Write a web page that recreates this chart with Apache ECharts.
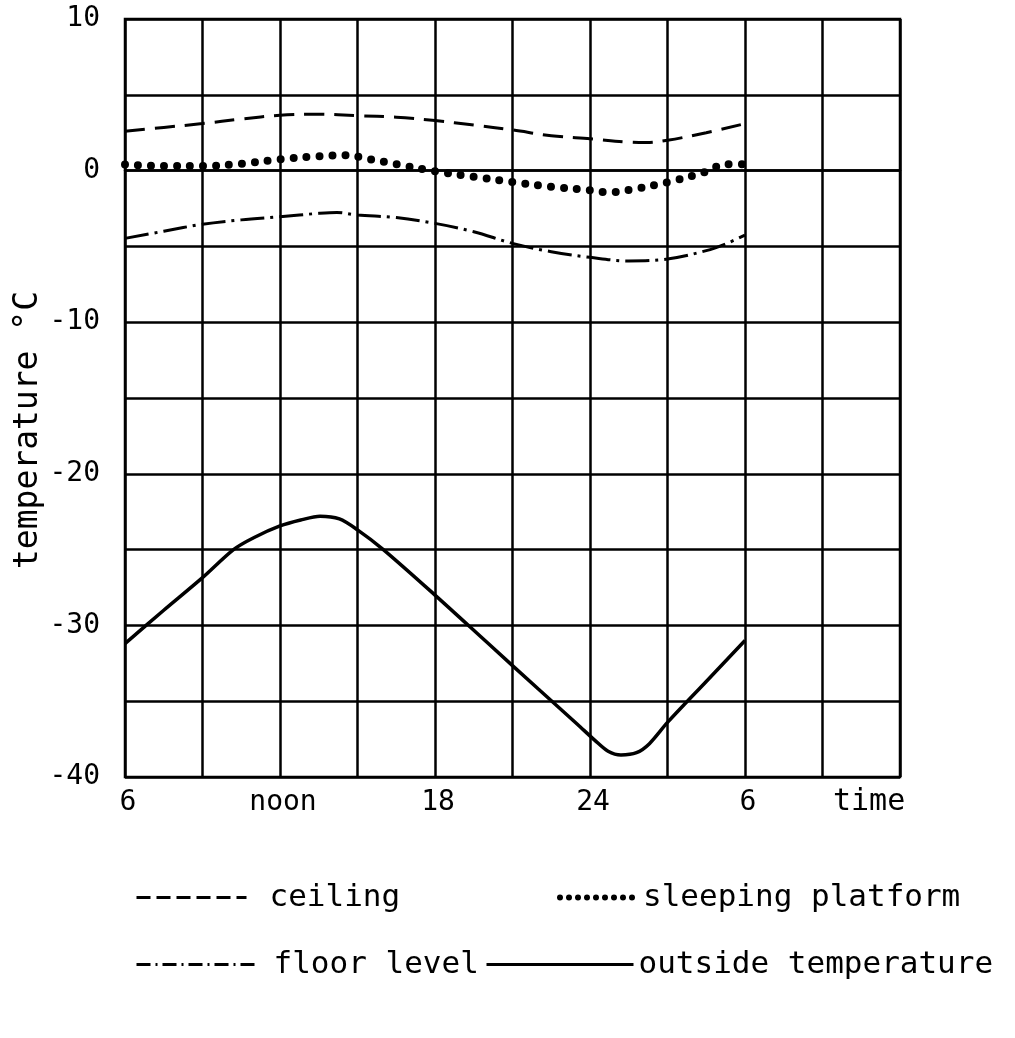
<!DOCTYPE html>
<html>
<head>
<meta charset="utf-8">
<script src="https://cdn.jsdelivr.net/npm/echarts@6/dist/echarts.min.js"></script>
<style>
  html, body { margin: 0; padding: 0; background: #fff; }
  #chart { width: 1015px; height: 1038px; }
</style>
</head>
<body>
<div id="chart"></div>
<script>
// ---- data (hours of day, 6 -> next morning 6 = 30) ----
const ceilingHours  = [6, 7.5, 9, 10.5, 12, 13.5, 15, 16.5, 18, 19.5, 21, 22.5, 24, 25.5, 26.2, 27, 28.5, 30];
const ceilingTemp   = [2.6, 2.85, 3.1, 3.4, 3.65, 3.72, 3.62, 3.52, 3.3, 3.0, 2.68, 2.3, 2.1, 1.88, 1.85, 2.0, 2.5, 3.1];

const platformHours = [6, 7.5, 9, 10.5, 12, 13.5, 14.5, 15.5, 16.5, 18, 19.5, 21, 22.5, 24, 24.7, 25.5, 27, 28.5, 29.2, 30];
const platformTemp  = [0.4, 0.3, 0.3, 0.45, 0.75, 0.95, 1.02, 0.74, 0.43, -0.05, -0.4, -0.76, -1.06, -1.3, -1.43, -1.28, -0.77, -0.07, 0.42, 0.42];

const floorHours    = [6, 7.5, 9, 10.5, 12, 13.5, 14.2, 15, 16.5, 18, 19.5, 21, 22.5, 24, 25.5, 27, 28.5, 29.3, 30];
const floorTemp     = [-4.47, -4.0, -3.54, -3.25, -3.04, -2.82, -2.76, -2.93, -3.1, -3.48, -4.03, -4.8, -5.35, -5.72, -5.96, -5.83, -5.28, -4.8, -4.25];

const outsideHours  = [6, 7.5, 9, 10.2, 11, 12, 12.8, 13.55, 14.3, 15, 16, 18, 20, 22, 23.5, 24.2, 24.7, 25.2, 25.8, 26.3, 27, 28.5, 30];
const outsideTemp   = [-31.2, -29.0, -26.85, -25.0, -24.2, -23.44, -23.05, -22.8, -22.98, -23.7, -25.0, -28.0, -31.1, -34.2, -36.5, -37.6, -38.3, -38.55, -38.4, -37.8, -36.4, -33.7, -31.0];

const seriesNames   = ['ceiling', 'sleeping platform', 'floor level', 'outside temperature'];

const xTickValues   = [6, 12, 18, 24, 30];
const xTickLabels   = ['6', 'noon', '18', '24', '6'];
const xAxisTitle    = 'time';
const yAxisTitle    = 'temperature °C';
const yLabelStep    = 10;

// ---- helpers ----
const pairs = (hs, vs) => hs.map((h, i) => [h, vs[i]]);
const FONT = 'DejaVu Sans Mono';
const GRID_W = 2.5;

const chart = echarts.init(document.getElementById('chart'), null, { renderer: 'canvas' });

function legendAt(name, left, top, itemWidth, lineStyle, padLeft) {
  return {
    data: [name],
    left: left, top: top, orient: 'horizontal',
    padding: 0, itemWidth: itemWidth, itemHeight: 14,
    selectedMode: false,
    itemStyle: { opacity: 0, borderWidth: 0 },
    lineStyle: lineStyle,
    textStyle: { fontFamily: FONT, fontSize: 31, color: '#000', padding: [0, 0, 0, padLeft] }
  };
}

const option = {
  backgroundColor: '#fff',
  animation: false,
  grid: {
    left: 125, right: 115, top: 19, bottom: 261,
    outerBoundsMode: 'none', containLabel: false,
    show: true, borderColor: '#000', borderWidth: GRID_W
  },
  xAxis: {
    type: 'value', min: 6, max: 36, interval: 3,
    axisLine: { show: true, lineStyle: { color: '#000', width: GRID_W } },
    axisTick: { show: false },
    splitLine: { show: true, lineStyle: { color: '#000', width: GRID_W } },
    axisLabel: {
      fontFamily: FONT, fontSize: 28, color: '#000', margin: 12,
      showMinLabel: true, showMaxLabel: true,
      padding: [0, 0, 0, 6],
      formatter: v => { const i = xTickValues.indexOf(v); return i >= 0 ? xTickLabels[i] : ''; }
    }
  },
  yAxis: {
    type: 'value', min: -40, max: 10, interval: 5,
    name: yAxisTitle, nameLocation: 'middle', nameGap: 80, nameMoveOverlap: false,
    nameTextStyle: { fontFamily: FONT, fontSize: 33, color: '#000', padding: [0, 64, 0, 0] },
    axisLine: { show: false },
    axisTick: { show: false },
    splitLine: { show: true, lineStyle: { color: '#000', width: GRID_W } },
    axisLabel: {
      fontFamily: FONT, fontSize: 28, color: '#000', margin: 25,
      formatter: v => (v % yLabelStep === 0 ? String(v) : '')
    }
  },
  graphic: [
    { type: 'text', left: 833, top: 787, style: { text: xAxisTitle, fontFamily: FONT, fontSize: 30, fill: '#000' } }
  ],
  legend: [
    legendAt(seriesNames[0], 135, 882, 110, { type: [14, 6], width: 3, color: '#000' }, 18),
    legendAt(seriesNames[1], 557, 882, 76, { type: [0, 9], width: 6, cap: 'round', color: '#000' }, 2),
    legendAt(seriesNames[2], 135, 949, 120, { type: [14, 5, 2, 5], width: 3, color: '#000' }, 12),
    legendAt(seriesNames[3], 485, 949, 147, { type: 'solid', width: 3, color: '#000' }, 0)
  ],
  series: [
    {
      name: seriesNames[0], type: 'line', symbol: 'none', smooth: 0.35,
      data: pairs(ceilingHours, ceilingTemp),
      lineStyle: { color: '#000', width: 3, type: [20, 10] }, itemStyle: { color: '#000' }
    },
    {
      name: seriesNames[1], type: 'line', symbol: 'none', smooth: 0.35,
      data: pairs(platformHours, platformTemp),
      lineStyle: { color: '#000', width: 8, type: [0, 13], cap: 'round' }, itemStyle: { color: '#000' }
    },
    {
      name: seriesNames[2], type: 'line', symbol: 'none', smooth: 0.35,
      data: pairs(floorHours, floorTemp),
      lineStyle: { color: '#000', width: 3, type: [24, 6, 3, 6] }, itemStyle: { color: '#000' }
    },
    {
      name: seriesNames[3], type: 'line', symbol: 'none', smooth: 0.3,
      data: pairs(outsideHours, outsideTemp),
      lineStyle: { color: '#000', width: 3.5 }, itemStyle: { color: '#000' }
    }
  ]
};
chart.setOption(option);
</script>
</body>
</html>
